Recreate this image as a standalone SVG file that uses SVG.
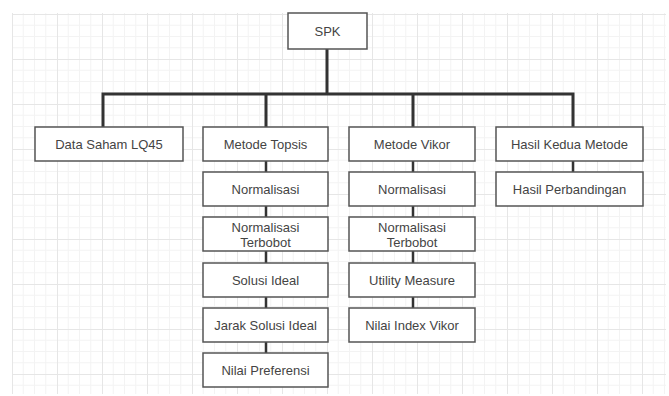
<svg xmlns="http://www.w3.org/2000/svg" width="669" height="396" viewBox="0 0 669 396">
  <defs>
    <pattern id="grid" patternUnits="userSpaceOnUse" x="12" y="14" width="45" height="45">
      <path d="M11.25 0V45M22.5 0V45M33.75 0V45M0 11.25H45M0 22.5H45M0 33.75H45" stroke="#f3f3f3" stroke-width="1" fill="none"/>
      <path d="M0.5 0V45M0 0.5H45" stroke="#e6e6e6" stroke-width="1" fill="none"/>
    </pattern>
  </defs>
  <style>
    .box { fill: #ffffff; stroke: #555555; stroke-width: 1.5; }
    .lbl { font-family: "Liberation Sans", Arial, sans-serif; font-size: 13px; fill: #444444; text-anchor: middle; dominant-baseline: central; }
    .bus { stroke: #333333; stroke-width: 3; fill: none; stroke-linecap: square; }
    .link { stroke: #333333; stroke-width: 2.5; fill: none; }
  </style>
  <rect width="669" height="396" fill="#ffffff"/>
  <rect x="12" y="13" width="654" height="381" fill="url(#grid)"/>

  <g id="connectors">
    <path class="bus" d="M327 49V94M103 94H573M103 94V127M266 94V127M413 94V127M573 94V127"/>
    <path class="link" d="M266 161V172M266 206V217M266 251V263M266 297V308M266 342V353"/>
    <path class="link" d="M413 161V172M413 206V217M413 251V263M413 297V308"/>
    <path class="link" d="M573 161V172"/>
  </g>

  <g id="spk"><rect class="box" x="288" y="13" width="79" height="36"/><text class="lbl" x="327.5" y="31">SPK</text></g>

  <g id="data-saham"><rect class="box" x="35" y="127" width="148" height="34"/><text class="lbl" x="109" y="144">Data Saham LQ45</text></g>
  <g id="metode-topsis"><rect class="box" x="203" y="127" width="125" height="34"/><text class="lbl" x="265.5" y="144">Metode Topsis</text></g>
  <g id="metode-vikor"><rect class="box" x="349" y="127" width="126" height="34"/><text class="lbl" x="412" y="144">Metode Vikor</text></g>
  <g id="hasil-kedua"><rect class="box" x="496" y="127" width="147" height="34"/><text class="lbl" x="569.5" y="144">Hasil Kedua Metode</text></g>

  <g id="topsis-normalisasi"><rect class="box" x="203" y="172" width="125" height="34"/><text class="lbl" x="265.5" y="189">Normalisasi</text></g>
  <g id="topsis-terbobot"><rect class="box" x="203" y="217" width="125" height="34"/><text class="lbl" x="265.5" y="227">Normalisasi</text><text class="lbl" x="265.5" y="242">Terbobot</text></g>
  <g id="topsis-solusi"><rect class="box" x="203" y="263" width="125" height="34"/><text class="lbl" x="265.5" y="280">Solusi Ideal</text></g>
  <g id="topsis-jarak"><rect class="box" x="203" y="308" width="125" height="34"/><text class="lbl" x="265.5" y="325">Jarak Solusi Ideal</text></g>
  <g id="topsis-preferensi"><rect class="box" x="203" y="353" width="125" height="34"/><text class="lbl" x="265.5" y="370">Nilai Preferensi</text></g>

  <g id="vikor-normalisasi"><rect class="box" x="349" y="172" width="126" height="34"/><text class="lbl" x="412" y="189">Normalisasi</text></g>
  <g id="vikor-terbobot"><rect class="box" x="349" y="217" width="126" height="34"/><text class="lbl" x="412" y="227">Normalisasi</text><text class="lbl" x="412" y="242">Terbobot</text></g>
  <g id="vikor-utility"><rect class="box" x="349" y="263" width="126" height="34"/><text class="lbl" x="412" y="280">Utility Measure</text></g>
  <g id="vikor-index"><rect class="box" x="349" y="308" width="126" height="34"/><text class="lbl" x="412" y="325">Nilai Index Vikor</text></g>

  <g id="hasil-perbandingan"><rect class="box" x="496" y="172" width="147" height="34"/><text class="lbl" x="569.5" y="189">Hasil Perbandingan</text></g>
</svg>
